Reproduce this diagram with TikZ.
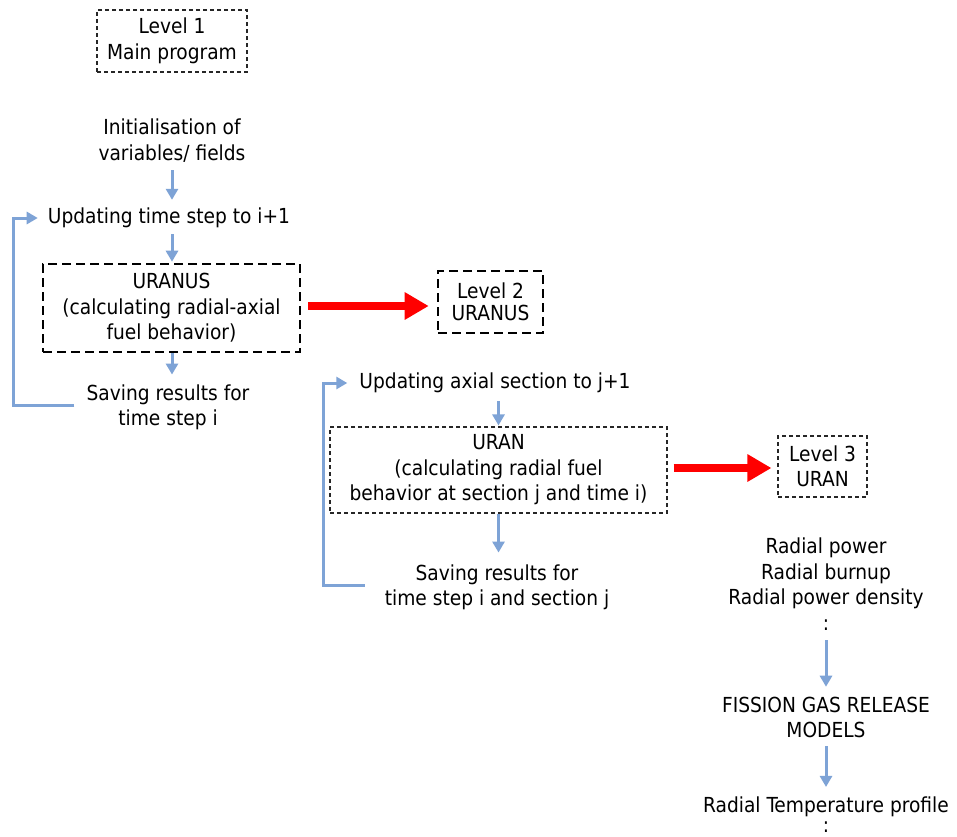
\documentclass[tikz,border=0pt]{standalone}
\usepackage{fontspec}
\setmainfont{DejaVu Sans Condensed}
\usetikzlibrary{arrows.meta}
\definecolor{arrowblue}{RGB}{126,163,214}
\definecolor{bigred}{RGB}{255,0,0}
\begin{document}
\begin{tikzpicture}[x=1pt,y=-1pt,
  txt/.style={align=center, font=\fontsize{20.7}{25.5}\selectfont, inner sep=0pt, text=black},
  thinbox/.style={txt, draw=black!85, dash pattern=on 4pt off 3pt, line width=1.1pt},
  thickbox/.style={txt, draw=black, dash pattern=on 9pt off 5pt, line width=2.6pt},
  flow/.style={draw=arrowblue, line width=3pt, -{Triangle[length=11pt,width=12pt]}},
  redflow/.style={draw=bigred, line width=8pt, -{Triangle[length=24pt,width=26pt]}}
]
\useasboundingbox (0,0) rectangle (957,836);
\fill[white] (0,0) rectangle (957,836);

% Level 1
\node[thinbox, minimum width=150pt, minimum height=62pt] (lvl1) at (172,41) {Level 1\\Main program};
\node[txt] (init) at (172,140.5) {Initialisation of\\variables/ fields};
\node[txt] (upd1) at (169,218) {Updating time step to i+1};
\node[thickbox, minimum width=257pt, minimum height=88pt] (uranus) at (171.5,308) {URANUS\\(calculating radial-axial\\fuel behavior)};
\node[txt] (save1) at (168,407.5) {Saving results for\\time step i};

% Level 2
\node[thickbox, minimum width=105pt, minimum height=62pt, font=\fontsize{20.7}{22}\selectfont] (lvl2) at (490.5,302) {Level 2\\URANUS};
\node[txt] (upd2) at (495,383) {Updating axial section to j+1};
\node[thinbox, minimum width=337pt, minimum height=86pt] (uran) at (498.5,470) {URAN\\(calculating radial fuel\\behavior at section j and time i)};
\node[txt] (save2) at (497,587.5) {Saving results for\\time step i and section j};

% Level 3
\node[thinbox, minimum width=89pt, minimum height=61pt] (lvl3) at (822.5,466.5) {Level 3\\URAN};
\node[txt] (radial) at (826,584) {Radial power\\Radial burnup\\Radial power density\\:};
\node[txt] (fgr) at (826,717.5) {FISSION GAS RELEASE\\MODELS};
\node[txt, font=\fontsize{20.7}{20}\selectfont] (temp) at (826,815) {Radial Temperature profile\\:};

% blue flow arrows
\draw[flow, shorten <=8pt, shorten >=8pt] (init.south -| 172,0) -- (upd1.north -| 172,0);
\draw[flow, shorten <=6pt, shorten >=1pt] (upd1.south -| 172,0) -- (uranus.north -| 172,0);
\draw[flow, shorten >=10pt] (uranus.south -| 172,0) -- (save1.north -| 172,0);
\draw[flow] ([xshift=-12pt,yshift=2.5pt]save1.west) -| (13,218) -- ([xshift=-10pt]upd1.west);

\draw[flow, shorten <=8pt, shorten >=1pt] (upd2.south -| uran.north) -- (uran.north);
\draw[flow, shorten >=12pt] (uran.south) -- (save2.north -| uran.south);
\draw[flow] ([xshift=-20pt,yshift=2.5pt]save2.west) -| (323,383) -- ([xshift=-12pt]upd2.west);

\draw[flow, shorten <=10pt, shorten >=10pt] (radial.south) -- (fgr.north);
\draw[flow, shorten <=8pt, shorten >=10pt] (fgr.south) -- (temp.north);

% red arrows
\draw[redflow, shorten <=7pt, shorten >=8pt] ([yshift=2pt]uranus.east) -- ([yshift=2pt]uranus.east -| lvl2.west);
\draw[redflow, shorten <=6pt, shorten >=6pt] ([yshift=2pt]uran.east) -- ([yshift=2pt]uran.east -| lvl3.west);
\end{tikzpicture}
\end{document}
